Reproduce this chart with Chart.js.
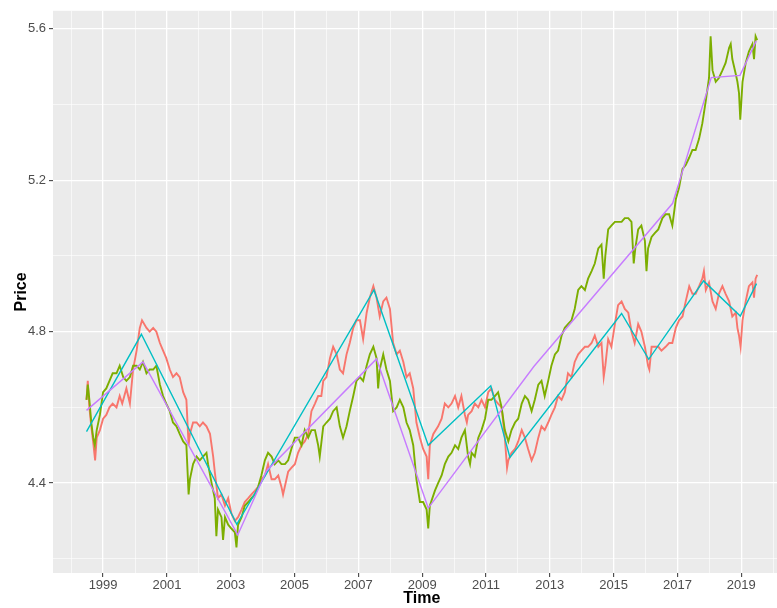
<!DOCTYPE html>
<html>
<head>
<meta charset="utf-8">
<script src="https://cdn.jsdelivr.net/npm/chart.js@4.4.0/dist/chart.umd.min.js"></script>
<style>
  html, body { margin: 0; padding: 0; background: #fff; overflow: hidden; }
  #wrap { width: 794px; height: 608px; }
</style>
</head>
<body>
<div id="wrap"><canvas id="chart-price" width="794" height="608"></canvas></div>
<script>
// axis ticks (majors get a label, minors only a grid line)
const xTicks = [1998, 1999, 2000, 2001, 2002, 2003, 2004, 2005, 2006, 2007, 2008, 2009,
                2010, 2011, 2012, 2013, 2014, 2015, 2016, 2017, 2018, 2019, 2020];
const xLabels = ['1999', '2001', '2003', '2005', '2007', '2009', '2011', '2013', '2015', '2017', '2019'];
const yTicks = [4.2, 4.4, 4.6, 4.8, 5.0, 5.2, 5.4, 5.6];
const yLabels = ['4.4', '4.8', '5.2', '5.6'];

// red series
const redTime = [
  1998.48, 1998.52, 1998.57, 1998.63, 1998.70, 1998.75, 1998.80, 1998.90,
  1999.00, 1999.10, 1999.20, 1999.30, 1999.42, 1999.52, 1999.60, 1999.73, 1999.84, 1999.94,
  2000.05, 2000.15, 2000.22, 2000.36, 2000.46, 2000.57, 2000.67, 2000.78, 2000.88, 2000.98,
  2001.09, 2001.19, 2001.30, 2001.40, 2001.51, 2001.61, 2001.68, 2001.72, 2001.82, 2001.93,
  2002.03, 2002.13, 2002.24, 2002.35, 2002.45, 2002.50, 2002.60, 2002.71, 2002.82, 2002.92,
  2003.02, 2003.13, 2003.23, 2003.34, 2003.44, 2003.55, 2003.65, 2003.76, 2003.86, 2003.96,
  2004.07, 2004.17, 2004.28, 2004.38, 2004.49, 2004.59, 2004.64, 2004.80, 2004.90,
  2005.01, 2005.11, 2005.22, 2005.32, 2005.43, 2005.53, 2005.64, 2005.74, 2005.84, 2005.90,
  2006.00, 2006.11, 2006.21, 2006.32, 2006.42, 2006.52, 2006.63, 2006.73, 2006.84, 2006.94,
  2007.05, 2007.15, 2007.26, 2007.36, 2007.47, 2007.57, 2007.67, 2007.78, 2007.88, 2007.99,
  2008.09, 2008.20, 2008.30, 2008.41, 2008.51, 2008.61, 2008.72, 2008.82, 2008.93,
  2009.03, 2009.14, 2009.19, 2009.24, 2009.35, 2009.50, 2009.61, 2009.71, 2009.82, 2009.92,
  2010.03, 2010.13, 2010.23, 2010.34, 2010.40, 2010.44, 2010.55, 2010.65, 2010.76, 2010.86, 2010.97,
  2011.07, 2011.17, 2011.28, 2011.38, 2011.49, 2011.59, 2011.66, 2011.70, 2011.80, 2011.91,
  2012.01, 2012.12, 2012.22, 2012.32, 2012.43, 2012.53, 2012.64, 2012.74, 2012.84, 2012.95,
  2013.05, 2013.16, 2013.26, 2013.37, 2013.47, 2013.57, 2013.68, 2013.78, 2013.89, 2013.99,
  2014.10, 2014.20, 2014.31, 2014.41, 2014.52, 2014.62, 2014.69, 2014.74, 2014.83, 2014.93,
  2015.04, 2015.14, 2015.25, 2015.35, 2015.46, 2015.56, 2015.66, 2015.77, 2015.87, 2015.98,
  2016.08, 2016.12, 2016.19, 2016.29, 2016.40, 2016.50, 2016.63, 2016.74, 2016.84, 2016.95,
  2017.05, 2017.16, 2017.26, 2017.37, 2017.47, 2017.57, 2017.68, 2017.78, 2017.83, 2017.89, 2017.99,
  2018.10, 2018.20, 2018.30, 2018.41, 2018.51, 2018.62, 2018.72, 2018.83, 2018.88, 2018.93, 2018.98,
  2019.04, 2019.14, 2019.24, 2019.35, 2019.40, 2019.45, 2019.50
];
const redPrice = [
  4.62, 4.67, 4.60, 4.55, 4.50, 4.46, 4.52, 4.54,
  4.57, 4.58, 4.60, 4.61, 4.60, 4.63, 4.61, 4.65, 4.61, 4.70,
  4.75, 4.81, 4.83, 4.81, 4.80, 4.81, 4.80, 4.77, 4.75, 4.73,
  4.70, 4.68, 4.69, 4.68, 4.64, 4.62, 4.50, 4.53, 4.56, 4.56,
  4.55, 4.56, 4.55, 4.53, 4.47, 4.43, 4.36, 4.37, 4.34, 4.36,
  4.32, 4.30, 4.31, 4.33, 4.35, 4.36, 4.37, 4.38, 4.39, 4.41,
  4.42, 4.45, 4.41, 4.41, 4.42, 4.39, 4.37, 4.43, 4.44,
  4.45, 4.48, 4.50, 4.51, 4.53, 4.59, 4.61, 4.63, 4.63, 4.67,
  4.68, 4.73, 4.76, 4.74, 4.70, 4.69, 4.74, 4.77, 4.81, 4.83,
  4.83, 4.78, 4.85, 4.89, 4.92, 4.89, 4.84, 4.88, 4.89, 4.86,
  4.77, 4.74, 4.75, 4.72, 4.68, 4.69, 4.65, 4.56, 4.52,
  4.49, 4.47, 4.41, 4.50, 4.53, 4.55, 4.57, 4.61, 4.60, 4.61,
  4.63, 4.60, 4.63, 4.58, 4.56, 4.58, 4.59, 4.61, 4.60, 4.62, 4.60,
  4.64, 4.65, 4.62, 4.61, 4.60, 4.52, 4.44, 4.46, 4.48, 4.49,
  4.51, 4.54, 4.52, 4.49, 4.46, 4.48, 4.52, 4.55, 4.54, 4.56,
  4.58, 4.60, 4.63, 4.62, 4.64, 4.69, 4.68, 4.72, 4.74, 4.75,
  4.76, 4.76, 4.77, 4.79, 4.76, 4.77, 4.68, 4.71, 4.78, 4.76,
  4.82, 4.87, 4.88, 4.86, 4.85, 4.80, 4.77, 4.82, 4.80, 4.76,
  4.71, 4.70, 4.76, 4.76, 4.76, 4.75, 4.76, 4.77, 4.77, 4.81,
  4.83, 4.84, 4.88, 4.92, 4.90, 4.90, 4.92, 4.94, 4.96, 4.91, 4.93,
  4.88, 4.86, 4.90, 4.92, 4.90, 4.88, 4.84, 4.85, 4.81, 4.79, 4.76,
  4.83, 4.88, 4.92, 4.93, 4.89, 4.94, 4.95
];

// green series
const greenTime = [
  1998.48, 1998.52, 1998.57, 1998.63, 1998.69, 1998.74, 1998.80, 1998.90,
  1999.00, 1999.10, 1999.20, 1999.30, 1999.42, 1999.52, 1999.63, 1999.73, 1999.84, 1999.94,
  2000.05, 2000.15, 2000.25, 2000.36, 2000.46, 2000.57, 2000.67, 2000.78, 2000.88, 2000.98,
  2001.09, 2001.19, 2001.30, 2001.40, 2001.51, 2001.61, 2001.68, 2001.72, 2001.82, 2001.93,
  2002.03, 2002.13, 2002.24, 2002.29, 2002.40, 2002.50, 2002.55, 2002.60, 2002.71, 2002.76, 2002.82, 2002.92,
  2003.02, 2003.13, 2003.18, 2003.23, 2003.34, 2003.44, 2003.55, 2003.65, 2003.76, 2003.86, 2003.96,
  2004.07, 2004.17, 2004.28, 2004.38, 2004.49, 2004.59, 2004.70, 2004.80, 2004.90,
  2005.01, 2005.11, 2005.22, 2005.32, 2005.43, 2005.53, 2005.64, 2005.74, 2005.79, 2005.90,
  2006.00, 2006.11, 2006.21, 2006.32, 2006.42, 2006.52, 2006.63, 2006.73, 2006.84, 2006.94,
  2007.05, 2007.15, 2007.26, 2007.36, 2007.47, 2007.57, 2007.62, 2007.67, 2007.78, 2007.88, 2007.99,
  2008.09, 2008.20, 2008.30, 2008.41, 2008.51, 2008.61, 2008.72, 2008.82, 2008.93,
  2009.03, 2009.14, 2009.19, 2009.24, 2009.40, 2009.50, 2009.61, 2009.71, 2009.82, 2009.92,
  2010.03, 2010.13, 2010.23, 2010.34, 2010.44, 2010.50, 2010.55, 2010.65, 2010.76, 2010.86, 2010.97,
  2011.07, 2011.17, 2011.28, 2011.38, 2011.49, 2011.59, 2011.70, 2011.80, 2011.91,
  2012.01, 2012.12, 2012.22, 2012.32, 2012.43, 2012.53, 2012.64, 2012.74, 2012.84, 2012.95,
  2013.05, 2013.16, 2013.26, 2013.37, 2013.47, 2013.57, 2013.68, 2013.78, 2013.89, 2013.99,
  2014.10, 2014.20, 2014.31, 2014.41, 2014.52, 2014.62, 2014.69, 2014.74, 2014.83, 2014.93,
  2015.04, 2015.14, 2015.25, 2015.35, 2015.46, 2015.56, 2015.63, 2015.68, 2015.77, 2015.87, 2015.98,
  2016.03, 2016.08, 2016.19, 2016.29, 2016.40, 2016.53, 2016.63, 2016.74, 2016.84, 2016.95,
  2017.05, 2017.16, 2017.26, 2017.37, 2017.47, 2017.57, 2017.68, 2017.78, 2017.89, 2017.99,
  2018.04, 2018.10, 2018.20, 2018.30, 2018.41, 2018.51, 2018.62, 2018.67, 2018.72, 2018.83, 2018.88, 2018.93, 2018.97,
  2019.04, 2019.14, 2019.24, 2019.35, 2019.40, 2019.45, 2019.50
];
const greenPrice = [
  4.62, 4.66, 4.62, 4.56, 4.52, 4.50, 4.54, 4.58,
  4.64, 4.65, 4.67, 4.69, 4.69, 4.71, 4.68, 4.67, 4.68, 4.71,
  4.71, 4.70, 4.72, 4.69, 4.70, 4.70, 4.71, 4.66, 4.63, 4.61,
  4.59, 4.56, 4.55, 4.53, 4.51, 4.50, 4.37, 4.41, 4.45, 4.47,
  4.46, 4.47, 4.48, 4.45, 4.40, 4.36, 4.26, 4.33, 4.31, 4.25, 4.31, 4.29,
  4.28, 4.27, 4.23, 4.29, 4.31, 4.34, 4.35, 4.36, 4.37, 4.39, 4.42,
  4.46, 4.48, 4.47, 4.45, 4.46, 4.45, 4.45, 4.46, 4.49,
  4.52, 4.52, 4.50, 4.54, 4.52, 4.54, 4.54, 4.50, 4.47, 4.55,
  4.56, 4.57, 4.59, 4.60, 4.55, 4.52, 4.55, 4.59, 4.63, 4.67,
  4.68, 4.67, 4.71, 4.74, 4.76, 4.73, 4.65, 4.70, 4.74, 4.70, 4.67,
  4.59, 4.60, 4.62, 4.60, 4.56, 4.54, 4.50, 4.41, 4.35,
  4.35, 4.33, 4.28, 4.34, 4.38, 4.40, 4.42, 4.45, 4.47, 4.48,
  4.50, 4.49, 4.52, 4.54, 4.47, 4.45, 4.48, 4.47, 4.52, 4.54, 4.57,
  4.62, 4.62, 4.63, 4.64, 4.60, 4.54, 4.51, 4.54, 4.56,
  4.57, 4.61, 4.63, 4.62, 4.59, 4.62, 4.66, 4.67, 4.63, 4.67,
  4.71, 4.74, 4.75, 4.79, 4.81, 4.82, 4.83, 4.86, 4.91, 4.92,
  4.91, 4.94, 4.96, 4.98, 5.02, 5.03, 4.94, 5.00, 5.07, 5.08,
  5.09, 5.09, 5.09, 5.10, 5.10, 5.09, 4.98, 5.02, 5.07, 5.08, 5.04,
  4.96, 5.02, 5.05, 5.06, 5.07, 5.10, 5.11, 5.11, 5.08, 5.15,
  5.18, 5.23, 5.24, 5.26, 5.28, 5.28, 5.31, 5.35, 5.41, 5.47,
  5.58, 5.49, 5.46, 5.47, 5.49, 5.51, 5.55, 5.56, 5.52, 5.48, 5.46, 5.43, 5.36,
  5.46, 5.51, 5.54, 5.56, 5.52, 5.58, 5.57
];

// piecewise trend lines
const cyanTime  = [1998.48, 2000.20, 2003.19, 2007.49, 2009.19, 2011.15, 2011.75, 2015.25, 2016.10, 2017.82, 2018.97, 2019.48];
const cyanPrice = [4.536, 4.793, 4.291, 4.910, 4.500, 4.657, 4.468, 4.848, 4.727, 4.934, 4.841, 4.927];
const purpleTime  = [1998.48, 2000.25, 2003.22, 2004.12, 2007.57, 2009.19, 2012.50, 2016.85, 2018.06, 2018.96, 2019.47];
const purplePrice = [4.592, 4.720, 4.263, 4.432, 4.728, 4.334, 4.708, 5.139, 5.471, 5.477, 5.568];

const toPoints = (xs, ys) => xs.map((x, i) => ({ x: x, y: ys[i] }));
const isMajorX = v => xLabels.includes(String(v));
const isMajorY = v => yLabels.includes(v.toFixed(1));

const panelBackground = {
  id: 'panelBackground',
  beforeDraw(chart) {
    const { ctx, chartArea: a } = chart;
    ctx.save();
    ctx.fillStyle = '#EBEBEB';
    ctx.fillRect(a.left, a.top, a.right - a.left, a.bottom - a.top);
    ctx.restore();
  }
};

const tickFont = { family: "'Liberation Sans', Arial, sans-serif", size: 13 };
const titleFont = { family: "'Liberation Sans', Arial, sans-serif", size: 16, weight: 'bold' };

var chartPrice = new Chart(
  document.getElementById('chart-price').getContext('2d'),
  { type: 'line',
    data: {
      datasets: [
        { data: toPoints(redTime, redPrice), borderColor: '#F8766D', borderWidth: 1.9, order: 4 },
        { data: toPoints(greenTime, greenPrice), borderColor: '#7CAE00', borderWidth: 1.9, order: 3 },
        { data: toPoints(cyanTime, cyanPrice), borderColor: '#00BFC4', borderWidth: 1.4, order: 2 },
        { data: toPoints(purpleTime, purplePrice), borderColor: '#C77CFF', borderWidth: 1.4, order: 1 }
      ]
    },
    options: {
      responsive: false,
      animation: false,
      layout: { padding: { left: 0, right: 3.3, top: 7, bottom: 0 } },
      elements: {
        point: { radius: 0 },
        line: { tension: 0, fill: false }
      },
      plugins: {
        legend: { display: false },
        tooltip: { enabled: false }
      },
      scales: {
        x: {
          type: 'linear',
          min: 1997.43,
          max: 2020.55,
          afterBuildTicks: scale => { scale.ticks = xTicks.map(v => ({ value: v })); },
          afterFit: scale => { scale.height = 35; },
          border: { display: false },
          grid: {
            color: '#FFFFFF',
            lineWidth: c => isMajorX(c.tick.value) ? 1.3 : 0.6,
            tickColor: c => isMajorX(c.tick.value) ? '#333333' : 'rgba(0,0,0,0)',
            tickWidth: 1,
            tickLength: 4
          },
          ticks: {
            autoSkip: false,
            maxRotation: 0,
            padding: 1,
            color: '#4D4D4D',
            font: tickFont,
            callback: v => isMajorX(v) ? String(v) : ''
          },
          title: {
            display: true,
            text: 'Time',
            color: '#000000',
            font: titleFont,
            padding: { top: 0, bottom: 0 }
          }
        },
        y: {
          type: 'linear',
          min: 4.1625,
          max: 5.6475,
          afterBuildTicks: scale => { scale.ticks = yTicks.map(v => ({ value: v })); },
          afterFit: scale => { scale.width = 53; },
          border: { display: false },
          grid: {
            color: '#FFFFFF',
            lineWidth: c => isMajorY(c.tick.value) ? 1.3 : 0.6,
            tickColor: c => isMajorY(c.tick.value) ? '#333333' : 'rgba(0,0,0,0)',
            tickWidth: 1,
            tickLength: 4
          },
          ticks: {
            autoSkip: false,
            padding: 3,
            color: '#4D4D4D',
            font: tickFont,
            callback: v => isMajorY(v) ? v.toFixed(1) : ''
          },
          title: {
            display: true,
            text: 'Price',
            color: '#000000',
            font: titleFont,
            padding: { top: 11.6, bottom: 0 }
          }
        }
      }
    },
    plugins: [panelBackground]
  }
); /* <-- End 'chartPrice' */
</script>
</body>
</html>
